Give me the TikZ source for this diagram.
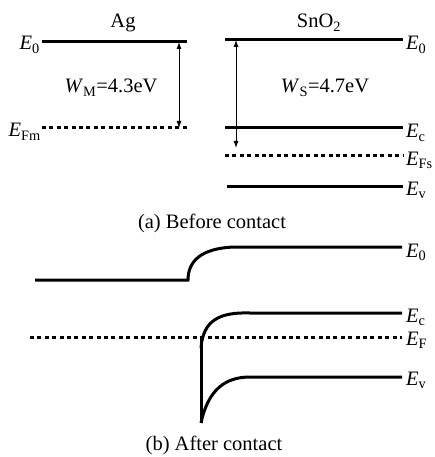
\documentclass[tikz,border=0pt]{standalone}
\usepackage{fontspec}
\setmainfont{Liberation Serif}
\usetikzlibrary{arrows.meta,positioning}

\newcommand{\lev}[2]{\textit{#1}\textsubscript{#2}}

\begin{document}
\begin{tikzpicture}[x=1pt,y=-1pt,
  level/.style={line width=3pt},
  fermi/.style={line width=3pt,dash pattern=on 4pt off 3.4pt},
  gap/.style={{Latex[length=7pt,width=5pt]}-{Latex[length=7pt,width=5pt]},line width=0.9pt},
  lbl/.style={font=\fontsize{20.5}{24}\selectfont,inner sep=0pt},
  rlbl/.style={lbl,anchor=base west},
  llbl/.style={lbl,anchor=base east}
]
  \useasboundingbox (0,0) rectangle (435,457);

  % (a) before contact
  \node[lbl,anchor=base] (ag)  at (123,28) {Ag};
  \node[lbl,anchor=base] (sno) at (319,28) {SnO\textsubscript{2}};

  \coordinate (m0a) at (42,42);   \coordinate (m0b) at (187,42);
  \coordinate (mfa) at (42,128);  \coordinate (mfb) at (187,128);
  \draw[level] (m0a) -- (m0b);
  \draw[fermi] (mfa) -- (mfb);
  \node[llbl] (lm0) at (40,50)  {\lev{E}{0}};
  \node[llbl] (lmf) at (41,137) {\lev{E}{Fm}};
  \coordinate (wmt) at (179,42);  \coordinate (wmb) at (179,128);
  \draw[gap] (wmt) -- (wmb);
  \node[lbl,anchor=base] (wm) at (111,93) {\lev{W}{M}=4.3eV};

  \coordinate (s0a) at (225,40);  \coordinate (s0b) at (403,40);
  \coordinate (sca) at (225,128); \coordinate (scb) at (403,128);
  \coordinate (sfa) at (225,156); \coordinate (sfb) at (403,156);
  \coordinate (sva) at (227,186); \coordinate (svb) at (403,186);
  \draw[level] (s0a) -- (s0b);
  \draw[level] (sca) -- (scb);
  \draw[fermi] (sfa) -- (sfb);
  \draw[level] (sva) -- (svb);
  \node[rlbl] (ls0) at (406,50)  {\lev{E}{0}};
  \node[rlbl] (lsc) at (406,138) {\lev{E}{c}};
  \node[rlbl] (lsf) at (406,165) {\lev{E}{Fs}};
  \node[rlbl] (lsv) at (406,195) {\lev{E}{v}};
  \coordinate (wst) at (236,40);  \coordinate (wsb) at (236,148);
  \draw[gap] (wst) -- (wsb);
  \node[lbl,anchor=base] (ws) at (325,93) {\lev{W}{S}=4.7eV};

  \node[lbl,anchor=base] (capa) at (212,228) {(a) Before contact};

  % (b) after contact
  \coordinate (b0a) at (35,280);  \coordinate (b0k) at (188,280);
  \coordinate (b0c) at (235,247); \coordinate (b0b) at (402,247);
  \draw[level] (b0a) -- (b0k) .. controls (188,262) and (200,248) .. (b0c) -- (b0b);

  \coordinate (bfa) at (30,337);  \coordinate (bfb) at (402,337);
  \draw[fermi] (bfa) -- (bfb);

  \coordinate (bwt) at (201,337); \coordinate (bwb) at (201,423);
  \draw[level] (bwt) -- (bwb);

  \coordinate (bck) at (201,348); \coordinate (bcc) at (250,313);
  \coordinate (bcb) at (402,313);
  \draw[level] (bck) .. controls (203,320) and (220,312) .. (bcc) -- (bcb);

  \coordinate (bvc) at (250,377); \coordinate (bvb) at (402,377);
  \draw[level] (bwb) .. controls (208,390) and (225,377) .. (bvc) -- (bvb);

  \node[rlbl] (lb0) at (406,257) {\lev{E}{0}};
  \node[rlbl] (lbc) at (406,322) {\lev{E}{c}};
  \node[rlbl] (lbf) at (406,345) {\lev{E}{F}};
  \node[rlbl] (lbv) at (406,385) {\lev{E}{v}};

  \node[lbl,anchor=base] (capb) at (214,450) {(b) After contact};
\end{tikzpicture}
\end{document}
